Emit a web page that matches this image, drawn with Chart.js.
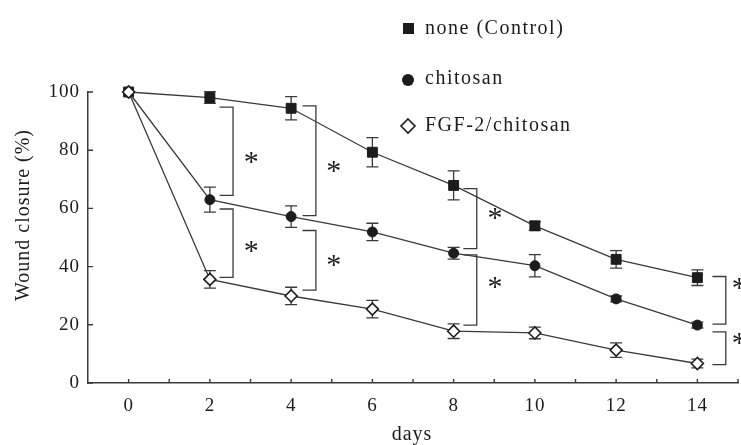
<!DOCTYPE html>
<html>
<head>
<meta charset="utf-8">
<script src="https://cdn.jsdelivr.net/npm/chart.js@4"></script>
<style>
    html, body { margin: 0; padding: 0; background: #fff; }
    #wrap { width: 741px; height: 445px; }
</style>
</head>
<body>
<div id="wrap"><canvas id="woundChart" width="741" height="445"></canvas></div>
<script>
const days = [0, 2, 4, 6, 8, 10, 12, 14];
const controlMean = [100, 98.1, 94.4, 79.3, 67.9, 54.0, 42.5, 36.2];
const controlErr = [0, 2, 4, 5, 5, 1.5, 3, 2.7];
const chitosanMean = [100, 63.0, 57.2, 51.9, 44.6, 40.3, 28.9, 19.9];
const chitosanErr = [0, 4.3, 3.7, 3, 2, 3.8, 1, 1];
const fgfMean = [100, 35.6, 29.9, 25.4, 17.8, 17.2, 11.3, 6.7];
const fgfErr = [0, 3, 3, 3, 2.5, 2, 2.5, 1.5];

const seriesNames = ["none (Control)", "chitosan", "FGF-2/chitosan"];
const yTicks = [0, 20, 40, 60, 80, 100];
const xLabels = [0, 2, 4, 6, 8, 10, 12, 14];

// significance brackets: [bracket x (days), top %, bottom %, star x (days), star y %]
const brackets = [
    [2.57, 94.8, 64.5, 3.03, 77.8],
    [2.57, 59.8, 36.3, 3.03, 47.0],
    [4.61, 95.2, 57.5, 5.06, 74.5],
    [4.61, 52.4, 31.9, 5.06, 42.3],
    [8.57, 66.8, 46.2, 9.03, 58.4],
    [8.57, 44.0, 19.9, 9.03, 34.8],
    [14.7, 36.6, 20.2, 15.04, 34.4],
    [14.7, 17.6, 6.3, 15.04, 15.4],
];

const ink = "#1c1c1c";
const lineInk = "#3a3a3a";
const serif = "'Liberation Serif', 'DejaVu Serif', serif";

Chart.defaults.font.family = serif;
Chart.defaults.font.size = 19;
Chart.defaults.color = ink;

function toPoints(ys) {
    return days.map((d, i) => ({ x: d, y: ys[i] }));
}

const errorSets = [controlErr, chitosanErr, fgfErr];

const errorBars = {
    id: "errorBars",
    beforeDatasetsDraw(chart) {
        const { ctx, scales: { x, y } } = chart;
        ctx.save();
        ctx.strokeStyle = lineInk;
        ctx.lineWidth = 1.3;
        chart.data.datasets.forEach((ds) => {
            const errs = errorSets[ds.seriesIndex];
            ds.data.forEach((p, i) => {
                if (!errs[i]) return;
                const px = x.getPixelForValue(p.x);
                const top = y.getPixelForValue(p.y + errs[i]);
                const bot = y.getPixelForValue(p.y - errs[i]);
                ctx.beginPath();
                ctx.moveTo(px, top);
                ctx.lineTo(px, bot);
                ctx.moveTo(px - 6, top);
                ctx.lineTo(px + 6, top);
                ctx.moveTo(px - 6, bot);
                ctx.lineTo(px + 6, bot);
                ctx.stroke();
            });
        });
        ctx.restore();
    },
};

const decorations = {
    id: "decorations",
    beforeDraw(chart) {
        chart.ctx.letterSpacing = "1px";
    },
    afterDraw(chart) {
        const { ctx, scales: { x, y }, chartArea } = chart;
        ctx.save();
        ctx.strokeStyle = lineInk;
        ctx.lineWidth = 1.4;

        // inward tick marks
        ctx.beginPath();
        for (let d = 0; d <= 15; d++) {
            const px = x.getPixelForValue(d);
            ctx.moveTo(px, chartArea.bottom);
            ctx.lineTo(px, chartArea.bottom - 4);
        }
        yTicks.forEach((v) => {
            const py = y.getPixelForValue(v);
            ctx.moveTo(chartArea.left, py);
            ctx.lineTo(chartArea.left + 5, py);
        });
        ctx.stroke();

        // significance brackets
        ctx.lineWidth = 1.3;
        ctx.fillStyle = ink;
        brackets.forEach(([bx, top, bot, sx, sy]) => {
            const px = x.getPixelForValue(bx);
            const stub = x.getPixelForValue(bx - 0.33);
            const pt = y.getPixelForValue(top);
            const pb = y.getPixelForValue(bot);
            ctx.beginPath();
            ctx.moveTo(stub, pt);
            ctx.lineTo(px, pt);
            ctx.lineTo(px, pb);
            ctx.lineTo(stub, pb);
            ctx.stroke();
            ctx.font = "30px " + serif;
            ctx.textAlign = "center";
            ctx.textBaseline = "alphabetic";
            ctx.fillText("*", x.getPixelForValue(sx), y.getPixelForValue(sy) + 14);
        });

        // axis titles
        ctx.font = "20px " + serif;
        ctx.textAlign = "center";
        ctx.textBaseline = "middle";
        ctx.fillText("days", 412, 435);
        ctx.save();
        ctx.translate(24, 215);
        ctx.rotate(-Math.PI / 2);
        ctx.fillText("Wound closure (%)", 0, 0);
        ctx.restore();

        // legend
        ctx.letterSpacing = "1.5px";
        ctx.textAlign = "left";
        ctx.fillRect(403, 23, 11, 11);
        ctx.fillText(seriesNames[0], 425, 29);
        ctx.beginPath();
        ctx.arc(408, 80, 6, 0, 2 * Math.PI);
        ctx.fill();
        ctx.fillText(seriesNames[1], 425, 79);
        ctx.beginPath();
        ctx.moveTo(408, 119);
        ctx.lineTo(415, 126);
        ctx.lineTo(408, 133);
        ctx.lineTo(401, 126);
        ctx.closePath();
        ctx.fillStyle = "#fff";
        ctx.fill();
        ctx.lineWidth = 1.6;
        ctx.strokeStyle = ink;
        ctx.stroke();
        ctx.fillStyle = ink;
        ctx.fillText(seriesNames[2], 425, 126);
        ctx.restore();
    },
};

const ctx = document.getElementById("woundChart").getContext("2d");

new Chart(ctx, {
    type: "line",
    data: {
        datasets: [
            {
                label: seriesNames[0],
                seriesIndex: 0,
                data: toPoints(controlMean),
                borderColor: lineInk,
                borderWidth: 1.3,
                pointStyle: "rect",
                pointRadius: 7,
                pointBackgroundColor: ink,
                pointBorderColor: ink,
                pointBorderWidth: 1,
                order: 3,
                clip: false,
            },
            {
                label: seriesNames[1],
                seriesIndex: 1,
                data: toPoints(chitosanMean),
                borderColor: lineInk,
                borderWidth: 1.3,
                pointStyle: "circle",
                pointRadius: 5,
                pointBackgroundColor: ink,
                pointBorderColor: ink,
                pointBorderWidth: 1,
                order: 2,
                clip: false,
            },
            {
                label: seriesNames[2],
                seriesIndex: 2,
                data: toPoints(fgfMean),
                borderColor: lineInk,
                borderWidth: 1.3,
                pointStyle: "rectRot",
                pointRadius: 6,
                pointBackgroundColor: "#fff",
                pointBorderColor: ink,
                pointBorderWidth: 1.6,
                order: 1,
                clip: false,
            },
        ],
    },
    options: {
        responsive: false,
        animation: false,
        layout: {
            autoPadding: false,
            padding: { top: 92, right: 3, left: 0, bottom: 0 },
        },
        plugins: {
            legend: { display: false },
            tooltip: { enabled: false },
        },
        scales: {
            x: {
                type: "linear",
                min: -1,
                max: 15,
                afterFit: (s) => {
                    s.height = 62;
                    s.paddingLeft = 0;
                    s.paddingRight = 0;
                },
                grid: { display: false, drawTicks: false },
                border: { display: true, color: lineInk, width: 1.5 },
                ticks: {
                    stepSize: 1,
                    autoSkip: false,
                    maxRotation: 0,
                    padding: 12,
                    callback: (v) => (xLabels.includes(v) ? String(v) : ""),
                },
            },
            y: {
                type: "linear",
                min: 0,
                max: 100,
                afterFit: (s) => {
                    s.width = 88;
                    s.paddingTop = 0;
                    s.paddingBottom = 0;
                },
                grid: { display: false, drawTicks: false },
                border: { display: true, color: lineInk, width: 1.5 },
                ticks: {
                    stepSize: 20,
                    padding: 8,
                },
            },
        },
    },
    plugins: [errorBars, decorations],
});
</script>
</body>
</html>
